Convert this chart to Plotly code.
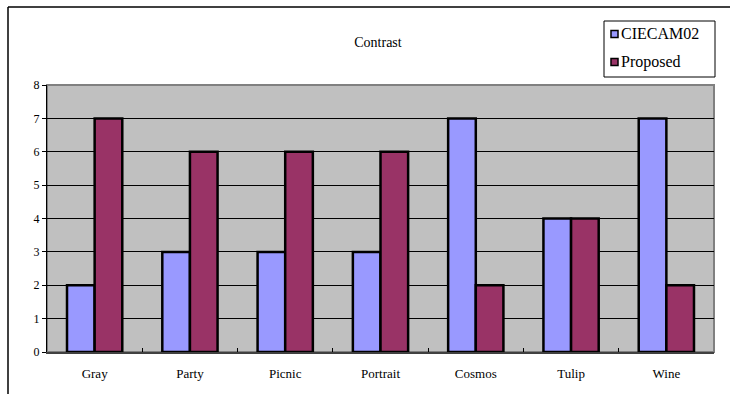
import plotly.graph_objects as go

categories = ["Gray", "Party", "Picnic", "Portrait", "Cosmos", "Tulip", "Wine"]
ciecam02 = [2, 3, 3, 3, 7, 4, 7]
proposed = [7, 6, 6, 6, 2, 4, 2]
y_ticks = [0, 1, 2, 3, 4, 5, 6, 7, 8]
series_names = ["CIECAM02", "Proposed"]
series_colors = ["#9999FF", "#993366"]

W, H = 730, 394
L, R, T, B = 47, 16, 85, 42
pw, ph = W - L - R, H - T - B
FONT = "'Liberation Serif', 'Times New Roman', serif"

def px(x):
    return (x - L) / pw

def py(y):
    return (H - B - y) / ph

fig = go.Figure()
for name, vals, col in zip(series_names, [ciecam02, proposed], series_colors):
    fig.add_trace(go.Bar(x=categories, y=vals, name=name,
                         marker=dict(color=col, line=dict(color="black", width=2.5))))

shapes = [
    dict(type="rect", xref="paper", yref="paper", x0=0, x1=1, y0=0, y1=1,
         line=dict(color="#808080", width=2), layer="below"),
    dict(type="line", xref="paper", yref="paper", x0=px(8), x1=px(8), y0=py(7), y1=py(394),
         line=dict(color="black", width=1.5)),
    dict(type="line", xref="paper", yref="paper", x0=px(8), x1=px(730), y0=py(7), y1=py(7),
         line=dict(color="black", width=1.5)),
    # legend box
    dict(type="rect", xref="paper", yref="paper", x0=px(604), x1=px(715), y0=py(21), y1=py(77),
         line=dict(color="black", width=1), fillcolor="white"),
]
annotations = []
for i, (name, col) in enumerate(zip(series_names, series_colors)):
    cy = 34 + i * 28
    shapes.append(dict(type="rect", xref="paper", yref="paper",
                       x0=px(611), x1=px(618), y0=py(cy - 3.5), y1=py(cy + 3.5),
                       line=dict(color="black", width=1.5), fillcolor=col))
    annotations.append(dict(text=name, xref="paper", yref="paper", x=px(619), y=py(cy),
                            xanchor="left", yanchor="middle", showarrow=False,
                            font=dict(family=FONT, size=16, color="black")))

fig.update_layout(
    width=W, height=H,
    margin=dict(l=L, r=R, t=T, b=B),
    paper_bgcolor="white",
    plot_bgcolor="#C0C0C0",
    barmode="group",
    bargap=0.42,
    bargroupgap=0,
    showlegend=False,
    font=dict(family=FONT, color="black", size=12),
    title=dict(text="Contrast", x=378 / W, xanchor="center", y=1 - 42 / H, yanchor="middle",
               font=dict(family=FONT, size=14)),
    xaxis=dict(showgrid=False, ticks="inside", tickson="boundaries", ticklen=4,
               tickcolor="black", showline=True, linecolor="#404040", linewidth=2,
               ticklabelstandoff=8, tickfont=dict(family=FONT, size=13)),
    yaxis=dict(range=[0, 8], tickvals=y_ticks, showgrid=True, gridcolor="black", gridwidth=1,
               ticks="outside", ticklen=4, tickcolor="black", showline=True,
               linecolor="black", linewidth=1, zeroline=False,
               tickfont=dict(family=FONT, size=12)),
    shapes=shapes,
    annotations=annotations,
)

fig.write_html("out.html")
